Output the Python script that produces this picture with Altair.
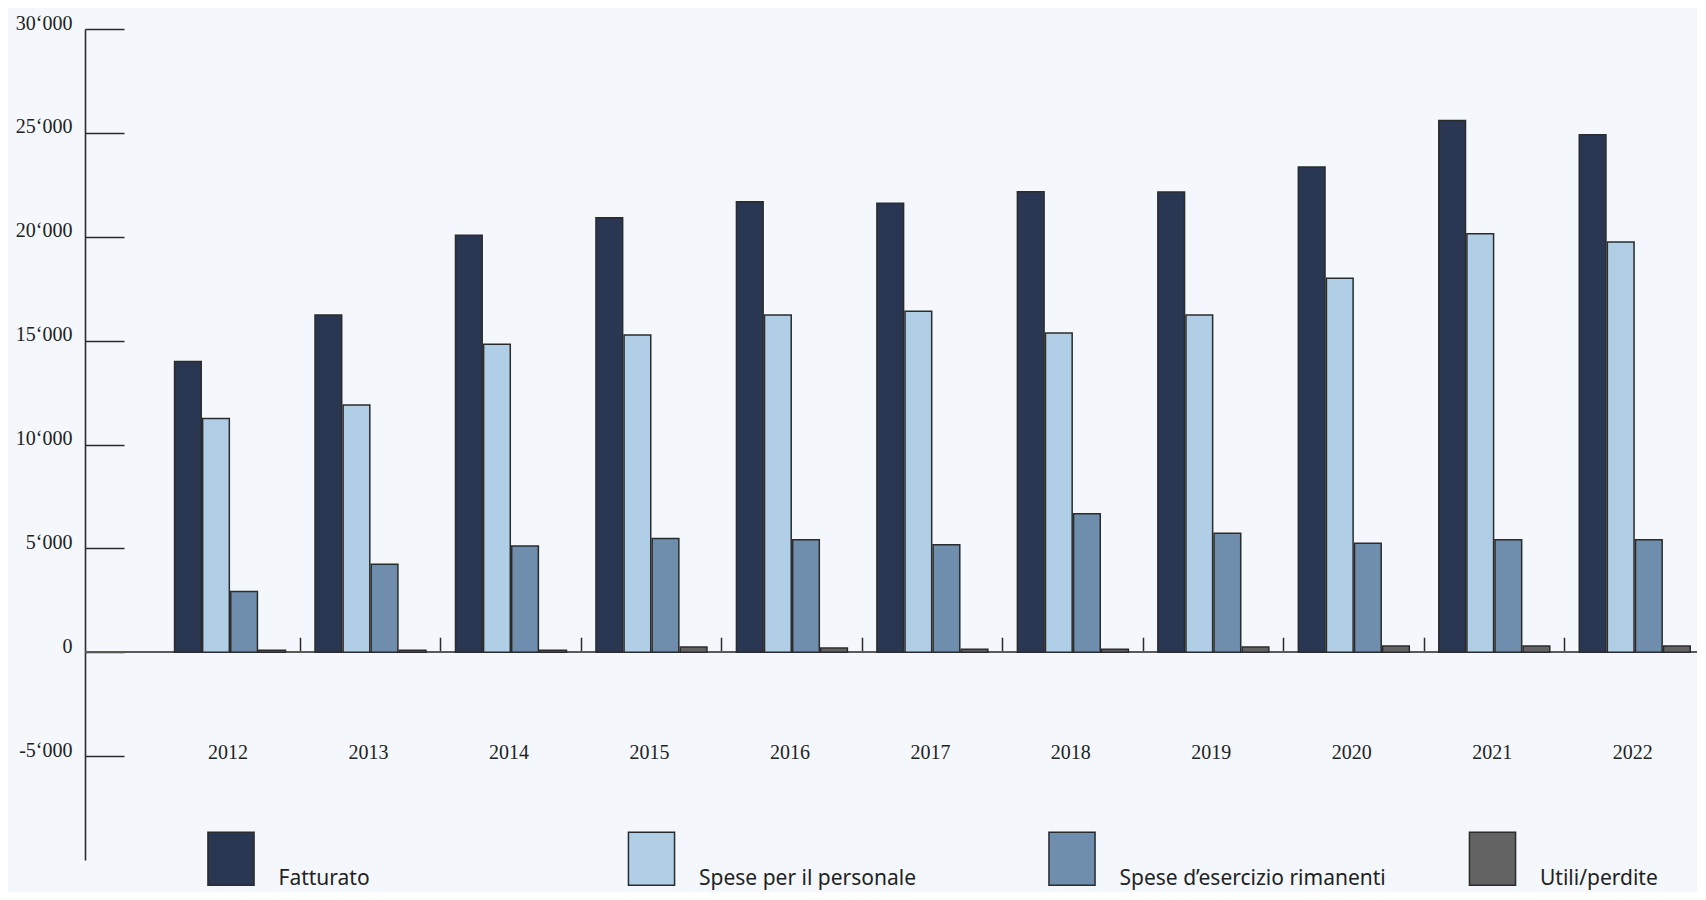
import altair as alt
import pandas as pd

years = ["2012", "2013", "2014", "2015", "2016", "2017", "2018", "2019", "2020", "2021", "2022"]
series = ["Fatturato", "Spese per il personale", "Spese d’esercizio rimanenti", "Utili/perdite"]
colors = ["#2A3753", "#B1CEE7", "#6F8DAC", "#636363"]

fatturato = [14000, 16230, 20070, 20920, 21690, 21610, 22170, 22150, 23360, 25590, 24910]
personale = [11250, 11900, 14820, 15270, 16230, 16410, 15370, 16230, 18000, 20150, 19750]
rimanenti = [2920, 4230, 5120, 5470, 5420, 5180, 6670, 5730, 5250, 5420, 5420]
utili = [100, 100, 100, 250, 200, 150, 150, 250, 300, 300, 300]

y_ticks = [-5000, 0, 5000, 10000, 15000, 20000, 25000, 30000]
y_domain = [-10000, 30000]

rows = []
for s, vals in zip(series, [fatturato, personale, rimanenti, utili]):
    for y, v in zip(years, vals):
        rows.append({"year": y, "series": s, "value": v})
df = pd.DataFrame(rows)

W = 1612
H = 831
SERIF = "Liberation Serif"
SANS = "Noto Sans"

yscale = alt.Scale(domain=y_domain, nice=False, zero=False)
xscale = alt.Scale(domain=years, range=[74.8, 1620], paddingInner=0.21, paddingOuter=0.105)
label_expr = "replace(replace(format(datum.value, ','), ',', '‘'), '−', '-')"

zero_rule = alt.Chart(df).mark_rule(color="#5a5a5a", strokeWidth=1.6).encode(
    y=alt.YDatum(0, scale=yscale, axis=None)
)

bars = alt.Chart(df).mark_bar(stroke="#2b2b2b", strokeWidth=1.5).encode(
    x=alt.X("year:N", scale=xscale, sort=years,
            axis=alt.Axis(orient="top", offset=-H * 0.75, labels=False, domain=False,
                          ticks=True, tickSize=15, tickColor="#2b2b2b", tickWidth=1.5,
                          bandPosition=1.1329, title=None, grid=False)),
    xOffset=alt.XOffset("series:N", sort=series, scale=alt.Scale(paddingInner=0.05, paddingOuter=0)),
    y=alt.Y("value:Q", scale=yscale,
            axis=alt.Axis(orient="left", offset=-39, values=y_ticks, tickSize=39,
                          tickColor="#2b2b2b", tickWidth=1.5, domain=False,
                          labelExpr=label_expr, labelFont=SERIF, labelFontSize=20,
                          labelColor="#222222", labelPadding=13, labelBaseline="alphabetic",
                          title=None, grid=False)),
    color=alt.Color("series:N", sort=series,
                    scale=alt.Scale(domain=series, range=colors),
                    legend=alt.Legend(orient="none", legendX=118.5, legendY=828.5,
                                      direction="horizontal", columns=4, gridAlign="all",
                                      columnPadding=78.5, title=None,
                                      symbolType="M-0.87,-2H0.87V0H-0.87Z", symbolSize=2809,
                                      symbolStrokeColor="#2b2b2b", symbolStrokeWidth=1.5,
                                      symbolOpacity=1, labelOffset=20,
                                      labelFont=SANS, labelFontSize=21, labelColor="#222222",
                                      labelBaseline="alphabetic", labelLimit=0, padding=0)),
)

frame = alt.Chart(df).mark_bar(opacity=0).encode(
    x=alt.X("year:N", scale=xscale, sort=years,
            axis=alt.Axis(orient="bottom", offset=-H * 0.125 - 4, domain=False, ticks=False,
                          tickSize=0, labelPadding=0, labelBaseline="middle", labelOffset=-2,
                          labelFont=SERIF, labelFontSize=20, labelColor="#222222",
                          labelAngle=0, title=None, grid=False)),
    xOffset=alt.XOffset("series:N", sort=series),
    y=alt.Y("value:Q", scale=yscale,
            axis=alt.Axis(orient="left", offset=0, domain=True, domainColor="#2b2b2b",
                          domainWidth=1.6, ticks=False, labels=False, title=None, grid=False)),
)

chart = alt.layer(zero_rule, bars, frame).resolve_axis(
    x="independent", y="independent"
).properties(
    width=W, height=H,
    background="#F4F8FC",
    padding={"left": 77, "top": 21, "right": 0, "bottom": 32},
    autosize=alt.AutoSizeParams(type="none"),
).configure_view(stroke=None)

chart.save("out.html", embed_options={"renderer": "svg", "actions": False})
